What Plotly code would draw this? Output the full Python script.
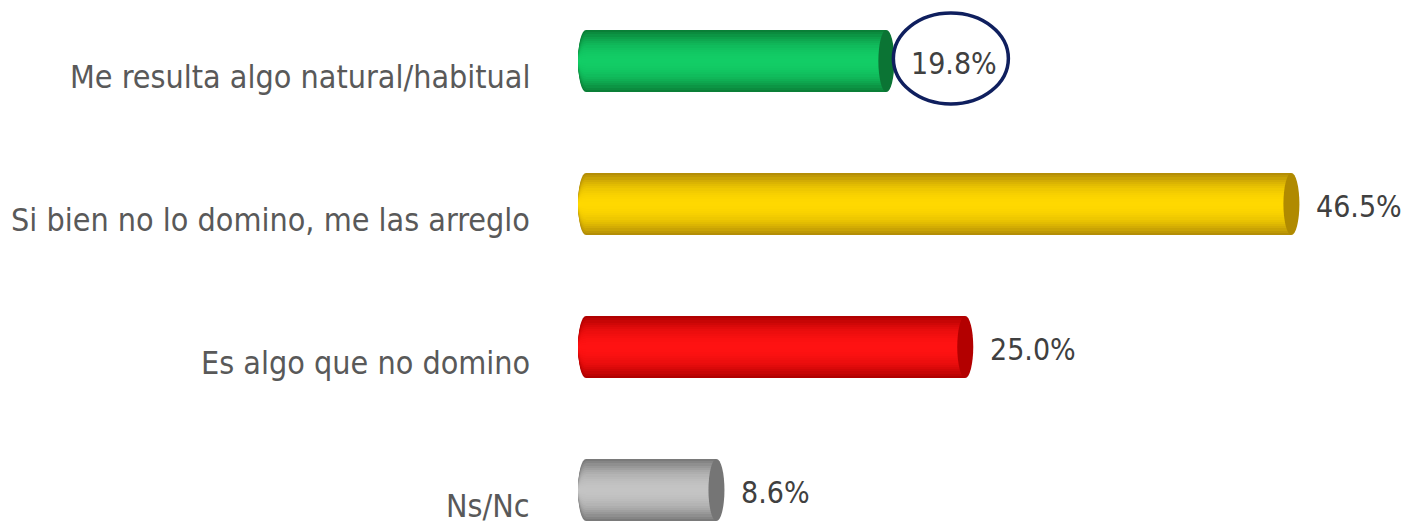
import plotly.graph_objects as go

categories = ["Me resulta algo natural/habitual",
              "Si bien no lo domino, me las arreglo",
              "Es algo que no domino",
              "Ns/Nc"]
values = [19.8, 46.5, 25.0, 8.6]
value_labels = ["19.8%", "46.5%", "25.0%", "8.6%"]

# cylinder shading: edge colour, centre colour, end-cap colour
edge_cols = ["#0a7f37", "#b48e06", "#b00000", "#7a7a7a"]
centre_cols = ["#12cd66", "#ffd800", "#ff1212", "#c4c4c4"]
cap_cols = ["#0b7434", "#b08a00", "#b30000", "#757575"]


def hex2rgb(h):
    h = h.lstrip("#")
    return [int(h[j:j + 2], 16) for j in (0, 2, 4)]


def mix(a, b, t):
    ra, rb = hex2rgb(a), hex2rgb(b)
    return "rgb(%d,%d,%d)" % tuple(round(ra[j] + (rb[j] - ra[j]) * t) for j in range(3))


ys = list(range(len(categories)))
BAR_W = 0.434
N_LAYERS = 14
widths = [1.0 - k * (0.92 / (N_LAYERS - 1)) for k in range(N_LAYERS)]

fig = go.Figure()
shapes = []
for k, wf in enumerate(widths):
    t = wf ** 2.2  # distance from centre -> darker toward edges
    cols = [mix(centre_cols[i], edge_cols[i], t) for i in ys]
    fig.add_trace(go.Bar(
        x=values, y=ys, orientation="h", base=0,
        width=BAR_W * wf, marker=dict(color=cols, line=dict(width=0)),
        hoverinfo="skip", showlegend=False))
    # left rounded end, same shading
    for i in ys:
        shapes.append(dict(type="circle", layer="below", xref="x", yref="y",
                           xsizemode="pixel", xanchor=0, x0=-8, x1=8,
                           y0=i - BAR_W * wf / 2, y1=i + BAR_W * wf / 2,
                           fillcolor=cols[i], line=dict(width=0)))

# right end caps
for i, v in enumerate(values):
    shapes.append(dict(type="circle", layer="above", xref="x", yref="y",
                       xsizemode="pixel", xanchor=v, x0=-8, x1=8,
                       y0=i - BAR_W / 2, y1=i + BAR_W / 2,
                       fillcolor=cap_cols[i], line=dict(width=0)))

# highlight ring around first value
shapes.append(dict(type="circle", layer="above", xref="x", yref="y",
                   xsizemode="pixel", xanchor=values[0], x0=7, x1=122,
                   ysizemode="pixel", yanchor=0, y0=-43, y1=48,
                   line=dict(color="#0f1f5e", width=3.5)))

FONT = "DejaVu Sans Condensed, DejaVu Sans, sans-serif"
annotations = []
for i, c in enumerate(categories):
    annotations.append(dict(x=0, y=i, xref="x", yref="y", text=c,
                            showarrow=False, xanchor="right", yanchor="middle",
                            xshift=-54, yshift=-16,
                            font=dict(family=FONT, size=32, color="#595959")))
for i, (v, t) in enumerate(zip(values, value_labels)):
    annotations.append(dict(x=v, y=i, xref="x", yref="y", text=t,
                            showarrow=False, xanchor="left", yanchor="middle",
                            xshift=23, yshift=-2,
                            font=dict(family=FONT, size=30, color="#404040")))

PX = 15.17
left_margin = 566
x0 = -20 / PX
x1 = x0 + (1410 - left_margin) / PX

fig.update_layout(
    width=1410, height=522,
    margin=dict(l=left_margin, r=0, t=0, b=0),
    paper_bgcolor="white", plot_bgcolor="white",
    barmode="overlay", bargap=0,
    xaxis=dict(range=[x0, x1], visible=False, fixedrange=True),
    yaxis=dict(range=[-0.4266 + 522 / 143, -0.4266], visible=False, fixedrange=True),
    shapes=shapes, annotations=annotations,
)

fig.write_html("out.html", config={"displayModeBar": False},
               post_script="document.body.style.margin='0';document.body.style.overflow='hidden';")
